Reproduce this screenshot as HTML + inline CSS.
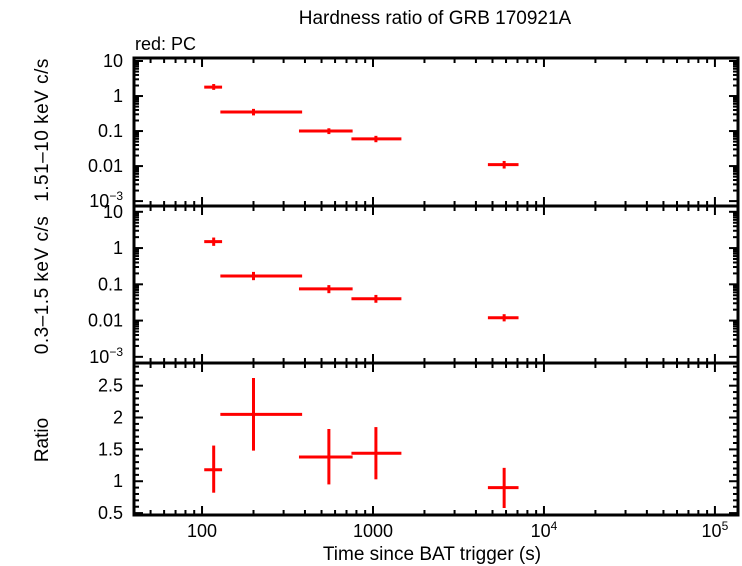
<!DOCTYPE html>
<html><head><meta charset="utf-8"><style>
body{margin:0;background:#fff}
svg{display:block;font-family:"Liberation Sans",sans-serif}
</style></head><body>
<svg id="c" width="742" height="566" xmlns="http://www.w3.org/2000/svg">
<text x="435" y="24" font-size="19" text-anchor="middle">Hardness ratio of GRB 170921A</text>
<text x="135" y="50" font-size="18">red: PC</text>
<text x="432" y="560" font-size="19" text-anchor="middle">Time since BAT trigger (s)</text>
<text transform="translate(48,130) rotate(-90)" font-size="19" letter-spacing="0.5" text-anchor="middle">1.51–10 keV c/s</text>
<text transform="translate(48,285) rotate(-90)" font-size="19" letter-spacing="0.5" text-anchor="middle">0.3–1.5 keV c/s</text>
<text transform="translate(48,440) rotate(-90)" font-size="19" text-anchor="middle">Ratio</text>
</svg>
<script>
const timeMid=[117,200,552,1040,5850];
const timeLo=[103,128,369,748,4700];
const timeHi=[131,385,760,1466,7100];
const hardRate=[1.8,0.35,0.1,0.06,0.011];
const hardErrLo=[1.5,0.28,0.082,0.048,0.0085];
const hardErrHi=[2.2,0.43,0.12,0.073,0.014];
const softRate=[1.5,0.17,0.075,0.04,0.012];
const softErrLo=[1.15,0.13,0.057,0.031,0.0095];
const softErrHi=[1.95,0.22,0.095,0.051,0.015];
const ratioVal=[1.18,2.05,1.38,1.44,0.9];
const ratioLo=[0.82,1.48,0.95,1.03,0.58];
const ratioHi=[1.56,2.62,1.82,1.85,1.21];
const logYTicks=["10","1","0.1","0.01"];
const ratioTicks=[0.5,1,1.5,2,2.5];
const xTickLabels=["100","1000","10⁴","10⁵"];

const svg=document.getElementById('c');
const NS="http://www.w3.org/2000/svg";
const X0=134,X1=738,LX0=Math.log10(40),LX1=5.135;
const sx=v=>X0+(Math.log10(v)-LX0)/(LX1-LX0)*(X1-X0);
const panels=[
 {t:58,b:206,lo:-3.14,hi:1.086,log:true},
 {t:206,b:363,lo:-3.17,hi:1.16,log:true},
 {t:363,b:515,lo:0.47,hi:2.856,log:false}];
function sy(p,v){const u=p.log?Math.log10(v):v;return p.b-(u-p.lo)/(p.hi-p.lo)*(p.b-p.t);}
function el(tag,a,par){const e=document.createElementNS(NS,tag);for(const k in a)e.setAttribute(k,a[k]);(par||svg).appendChild(e);return e;}
function ln(x1,y1,x2,y2,w,c,name){const e=el('line',{x1,y1,x2,y2,stroke:c||'#000','stroke-width':w||1.5});

return e;}
const FS=18;
panels.forEach((p,i)=>{
 const f=el('rect',{x:X0,y:p.t,width:X1-X0,height:p.b-p.t,fill:'none',stroke:'#000','stroke-width':3});
 
 
 for(let d=1;d<=5;d++)for(let m=1;m<10;m++){const v=m*Math.pow(10,d);const x=sx(v);if(x<X0+2||x>X1-2)continue;const L=m==1?9:5;
  ln(x,p.t,x,p.t+L,2);ln(x,p.b,x,p.b-L,2);}
 if(p.log){
  for(let d=-3;d<=1;d++)for(let m=1;m<10;m++){const v=m*Math.pow(10,d);const y=sy(p,v);if(y<p.t+1||y>p.b-1)continue;const L=m==1?9:5;
   ln(X0,y,X0+L,y,2);ln(X1,y,X1-L,y,2);}
  [10,1,0.1,0.01].forEach((v,k)=>{const t=el('text',{x:X0-11,y:sy(p,v)+6,'font-size':FS,'text-anchor':'end'});t.textContent=logYTicks[k];
   
   });
  const t=el('text',{x:X0-11,y:sy(p,0.001)+6,'font-size':FS,'text-anchor':'end'});t.innerHTML='10<tspan dy="-7" font-size="12">−3</tspan>';
  
  
 }else{
  for(let v=0.5;v<=2.85;v+=0.1){const y=sy(p,v);const maj=Math.abs(v*2-Math.round(v*2))<0.01;const L=maj?9:5;ln(X0,y,X0+L,y,2);ln(X1,y,X1-L,y,2);}
  ratioTicks.forEach(v=>{const t=el('text',{x:X0-11,y:sy(p,v)+6,'font-size':FS,'text-anchor':'end'});t.textContent=String(v);
   
   });
 }
});
[100,1000,1e4,1e5].forEach((v,k)=>{const t=el('text',{x:sx(v),y:537,'font-size':FS,'text-anchor':'middle'});
 if(k<2)t.textContent=xTickLabels[k];else t.innerHTML='10<tspan dy="-7" font-size="12">'+(k+2)+'</tspan>';
 
 });
function series(p,vals,lo,hi,name){
 vals.forEach((v,i)=>{const y=sy(p,v),x=sx(timeMid[i]);
  ln(sx(timeLo[i]),y,sx(timeHi[i]),y,3,'#f00',name+'-xerr-'+i);
  ln(x,sy(p,lo[i]),x,sy(p,hi[i]),3,'#f00',name+'-yerr-'+i);});
}
series(panels[0],hardRate,hardErrLo,hardErrHi,'hard-point');
series(panels[1],softRate,softErrLo,softErrHi,'soft-point');
series(panels[2],ratioVal,ratioLo,ratioHi,'ratio-point');
</script>
</body></html>
